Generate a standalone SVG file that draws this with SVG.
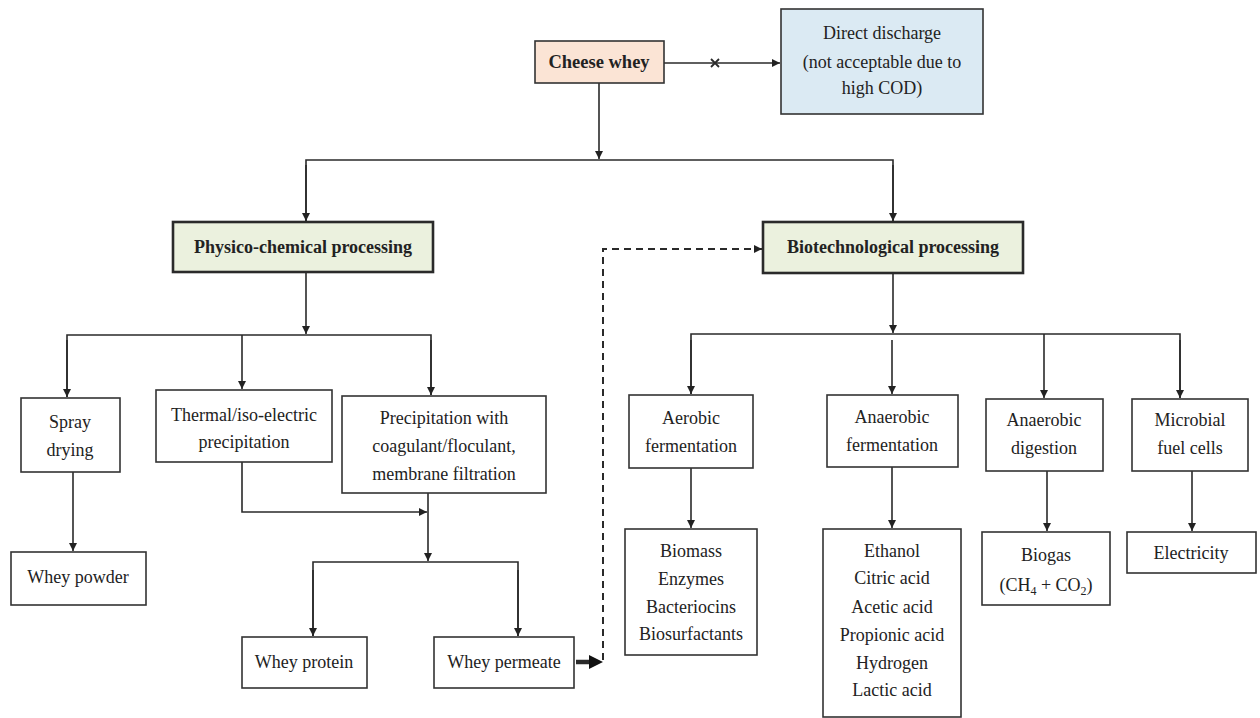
<svg xmlns="http://www.w3.org/2000/svg" width="1260" height="718" viewBox="0 0 1260 718">
<style>
.box{fill:#fff;stroke:#333;stroke-width:1.6}
.hdr{stroke:#2a2a2a;stroke-width:2.6}
.t{font-family:"Liberation Serif","Times New Roman",serif;font-size:18px;fill:#222;text-anchor:middle}
.b{font-weight:bold}
.c{fill:none;stroke:#2a2a2a;stroke-width:1.6}
.d{stroke-dasharray:7,5;stroke-width:2}
.thick{stroke-width:4.5}
.x{stroke-width:1.8}
</style>
<defs>
<marker id="ah" viewBox="0 0 10 10" refX="10" refY="5" markerWidth="8" markerHeight="8" markerUnits="userSpaceOnUse" orient="auto">
<path d="M0,0 L10,5 L0,10 z" fill="#222"/>
</marker>
<marker id="ahb" viewBox="0 0 10 10" refX="10" refY="5" markerWidth="13" markerHeight="13" markerUnits="userSpaceOnUse" orient="auto">
<path d="M0,0 L10,5 L0,10 z" fill="#111"/>
</marker>
</defs>
<rect width="1260" height="718" fill="#fff"/>

<g id="connectors">
<line class="c" x1="664" y1="63" x2="780" y2="63" marker-end="url(#ah)"/>
<path class="c x" d="M711,59 L719,67 M719,59 L711,67"/>
<line class="c" x1="599" y1="83" x2="599" y2="159" marker-end="url(#ah)"/>
<path class="c" d="M306,221 L306,160 L893,160 L893,221" />
<line class="c" x1="306" y1="165" x2="306" y2="221" marker-end="url(#ah)"/>
<line class="c" x1="893" y1="165" x2="893" y2="221" marker-end="url(#ah)"/>
<line class="c" x1="306" y1="273" x2="306" y2="334" marker-end="url(#ah)"/>
<path class="c" d="M67,397 L67,335 L431,335 L431,395"/>
<line class="c" x1="67" y1="340" x2="67" y2="397" marker-end="url(#ah)"/>
<line class="c" x1="242" y1="335" x2="242" y2="389" marker-end="url(#ah)"/>
<line class="c" x1="431" y1="340" x2="431" y2="395" marker-end="url(#ah)"/>
<line class="c" x1="73" y1="472" x2="73" y2="551" marker-end="url(#ah)"/>
<path class="c" d="M242,462 L242,512 L427,512" marker-end="url(#ah)"/>
<line class="c" x1="428" y1="493" x2="428" y2="561" marker-end="url(#ah)"/>
<path class="c" d="M313,636 L313,562 L518,562 L518,636"/>
<line class="c" x1="313" y1="570" x2="313" y2="636" marker-end="url(#ah)"/>
<line class="c" x1="518" y1="570" x2="518" y2="636" marker-end="url(#ah)"/>
<line class="c thick" x1="576" y1="662" x2="592" y2="662"/>
<path d="M589,655 L603,662 L589,669 z" fill="#111"/>
<path class="c d" d="M603,660 L603,249 L762,249" marker-end="url(#ah)"/>
<line class="c" x1="893" y1="274" x2="893" y2="333" marker-end="url(#ah)"/>
<path class="c" d="M691,394 L691,334 L1180,334 L1180,398"/>
<line class="c" x1="691" y1="340" x2="691" y2="394" marker-end="url(#ah)"/>
<line class="c" x1="892" y1="340" x2="892" y2="394" marker-end="url(#ah)"/>
<line class="c" x1="1044" y1="334" x2="1044" y2="398" marker-end="url(#ah)"/>
<line class="c" x1="1180" y1="340" x2="1180" y2="398" marker-end="url(#ah)"/>
<line class="c" x1="691" y1="468" x2="691" y2="528" marker-end="url(#ah)"/>
<line class="c" x1="892" y1="467" x2="892" y2="528" marker-end="url(#ah)"/>
<line class="c" x1="1047" y1="471" x2="1047" y2="531" marker-end="url(#ah)"/>
<line class="c" x1="1192" y1="471" x2="1192" y2="531" marker-end="url(#ah)"/>
</g>

<g id="cheese-whey">
<rect class="box" x="535" y="41" width="129" height="42" style="fill:#fbe4d5"/>
<text class="t b" x="599" y="68" style="font-size:18.5px">Cheese whey</text>
</g>
<g id="direct-discharge">
<rect class="box" x="781" y="9" width="202" height="105" style="fill:#dbeaf3"/>
<text class="t" x="882" y="39">Direct discharge</text>
<text class="t" x="882" y="68">(not acceptable due to</text>
<text class="t" x="882" y="94">high COD)</text>
</g>
<g id="physico">
<rect class="box hdr" x="173" y="222" width="260" height="50" style="fill:#ebf1de"/>
<text class="t b" x="303" y="253">Physico-chemical processing</text>
</g>
<g id="biotech">
<rect class="box hdr" x="763" y="222" width="260" height="51" style="fill:#ebf1de"/>
<text class="t b" x="893" y="253">Biotechnological processing</text>
</g>
<g id="spray-drying">
<rect class="box" x="21" y="398" width="99" height="74"/>
<text class="t" x="70" y="428">Spray</text>
<text class="t" x="70" y="456">drying</text>
</g>
<g id="thermal">
<rect class="box" x="156" y="390" width="176" height="72"/>
<text class="t" x="244" y="421">Thermal/iso-electric</text>
<text class="t" x="244" y="448">precipitation</text>
</g>
<g id="precipitation">
<rect class="box" x="342" y="396" width="204" height="97"/>
<text class="t" x="444" y="424">Precipitation with</text>
<text class="t" x="444" y="452">coagulant/floculant,</text>
<text class="t" x="444" y="480">membrane filtration</text>
</g>
<g id="whey-powder">
<rect class="box" x="11" y="552" width="135" height="53"/>
<text class="t" x="78" y="583">Whey powder</text>
</g>
<g id="whey-protein">
<rect class="box" x="242" y="637" width="125" height="51"/>
<text class="t" x="304" y="668">Whey protein</text>
</g>
<g id="whey-permeate">
<rect class="box" x="434" y="637" width="140" height="51"/>
<text class="t" x="504" y="668">Whey permeate</text>
</g>
<g id="aerobic">
<rect class="box" x="629" y="395" width="124" height="73"/>
<text class="t" x="691" y="424">Aerobic</text>
<text class="t" x="691" y="452">fermentation</text>
</g>
<g id="anaerobic-fermentation">
<rect class="box" x="827" y="395" width="131" height="72"/>
<text class="t" x="892" y="423">Anaerobic</text>
<text class="t" x="892" y="451">fermentation</text>
</g>
<g id="anaerobic-digestion">
<rect class="box" x="986" y="399" width="117" height="72"/>
<text class="t" x="1044" y="426">Anaerobic</text>
<text class="t" x="1044" y="454">digestion</text>
</g>
<g id="microbial">
<rect class="box" x="1132" y="399" width="116" height="72"/>
<text class="t" x="1190" y="426">Microbial</text>
<text class="t" x="1190" y="454">fuel cells</text>
</g>
<g id="aerobic-products">
<rect class="box" x="625" y="529" width="132" height="126"/>
<text class="t" x="691" y="557">Biomass</text>
<text class="t" x="691" y="585">Enzymes</text>
<text class="t" x="691" y="613">Bacteriocins</text>
<text class="t" x="691" y="640">Biosurfactants</text>
</g>
<g id="anaerobic-products">
<rect class="box" x="823" y="529" width="138" height="188"/>
<text class="t" x="892" y="557">Ethanol</text>
<text class="t" x="892" y="584">Citric acid</text>
<text class="t" x="892" y="613">Acetic acid</text>
<text class="t" x="892" y="641">Propionic acid</text>
<text class="t" x="892" y="669">Hydrogen</text>
<text class="t" x="892" y="696">Lactic acid</text>
</g>
<g id="biogas">
<rect class="box" x="982" y="532" width="128" height="73"/>
<text class="t" x="1046" y="561">Biogas</text>
<text class="t" x="1046" y="591">(CH<tspan font-size="12" dy="4">4</tspan><tspan dy="-4"> + CO</tspan><tspan font-size="12" dy="4">2</tspan><tspan dy="-4">)</tspan></text>
</g>
<g id="electricity">
<rect class="box" x="1127" y="532" width="129" height="41"/>
<text class="t" x="1191" y="559">Electricity</text>
</g>
</svg>
